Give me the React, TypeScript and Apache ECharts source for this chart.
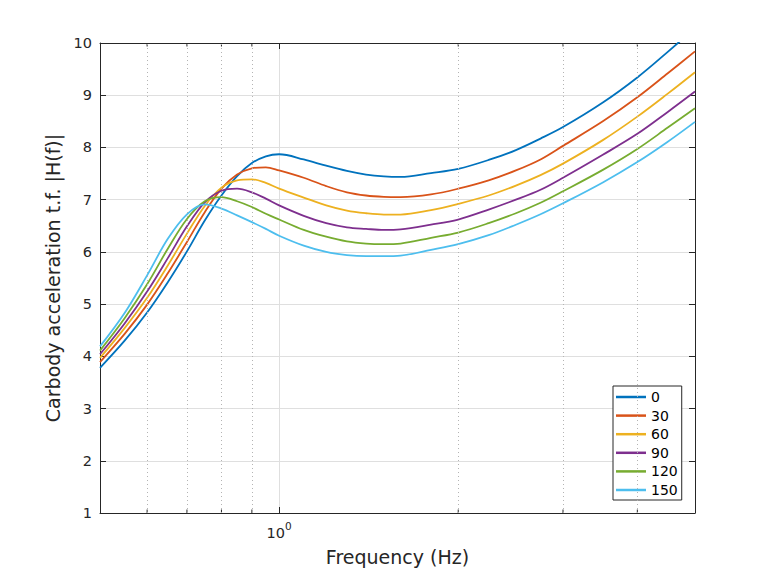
import React, { useEffect, useRef } from "react";
import * as echarts from "echarts";

// ---- data ----
const FREQ = [0.5, 0.55, 0.6, 0.65, 0.7, 0.75, 0.8, 0.85, 0.9, 0.95, 1.0, 1.1, 1.2, 1.3, 1.4, 1.5, 1.6, 1.8, 2.0, 2.25, 2.5, 2.75, 3.0, 3.5, 4.0, 4.5, 5.0];

const H_0 = [3.78, 4.3, 4.84, 5.42, 6.01, 6.6, 7.08, 7.45, 7.7, 7.83, 7.87, 7.77, 7.65, 7.55, 7.48, 7.445, 7.435, 7.51, 7.59, 7.76, 7.95, 8.17, 8.39, 8.86, 9.34, 9.83, 10.29];
const H_30 = [3.89, 4.43, 4.99, 5.59, 6.19, 6.76, 7.21, 7.48, 7.6, 7.62, 7.56, 7.42, 7.26, 7.14, 7.08, 7.055, 7.05, 7.1, 7.21, 7.37, 7.56, 7.77, 8.03, 8.5, 8.96, 9.42, 9.84];
const H_60 = [3.97, 4.54, 5.12, 5.74, 6.35, 6.88, 7.23, 7.37, 7.39, 7.32, 7.21, 7.04, 6.89, 6.79, 6.74, 6.715, 6.715, 6.8, 6.92, 7.08, 7.27, 7.47, 7.69, 8.14, 8.59, 9.03, 9.44];
const H_90 = [4.04, 4.63, 5.24, 5.88, 6.49, 6.95, 7.17, 7.21, 7.14, 7.02, 6.89, 6.69, 6.55, 6.47, 6.44, 6.42, 6.43, 6.52, 6.62, 6.81, 7.0, 7.19, 7.42, 7.86, 8.26, 8.68, 9.07];
const H_120 = [4.11, 4.73, 5.38, 6.06, 6.63, 6.97, 7.05, 6.97, 6.86, 6.73, 6.62, 6.42, 6.29, 6.2, 6.16, 6.15, 6.16, 6.27, 6.37, 6.55, 6.74, 6.94, 7.16, 7.57, 7.97, 8.38, 8.75];
const H_150 = [4.19, 4.83, 5.55, 6.25, 6.72, 6.91, 6.83, 6.7, 6.57, 6.44, 6.31, 6.12, 6.0, 5.94, 5.92, 5.92, 5.93, 6.04, 6.15, 6.32, 6.52, 6.72, 6.93, 7.33, 7.72, 8.11, 8.49];

const SERIES_NAMES = ["0", "30", "60", "90", "120", "150"];
const SERIES_VALUES = [H_0, H_30, H_60, H_90, H_120, H_150];
const COLORS = ["#0072BD", "#D95319", "#EDB120", "#7E2F8E", "#77AC30", "#4DBEEE"];

const X_MIN = 0.5;
const X_MAX = 5;
const X_MINOR_TICKS = [0.6, 0.7, 0.8, 0.9, 2, 3, 4];
const Y_MIN = 1;
const Y_MAX = 10;
const Y_STEP = 1;

const X_LABEL = "Frequency (Hz)";
const Y_LABEL = "Carbody acceleration t.f. |H(f)|";

const FONT = "DejaVu Sans";
const AXIS_COLOR = "#262626";
const GRID_COLOR = "#dfdfdf";
const MINOR_GRID_COLOR = "#b4b4b4";

export default function App() {
  const ref = useRef<HTMLDivElement>(null);

  useEffect(() => {
    if (!ref.current) return;
    const chart = echarts.init(ref.current, undefined, { renderer: "svg" });

    const lineSeries = SERIES_NAMES.map((name, i) => ({
      name,
      type: "line",
      xAxisIndex: 0,
      yAxisIndex: 0,
      data: FREQ.map((f, j) => [f, SERIES_VALUES[i][j]]),
      showSymbol: false,
      symbol: "none",
      smooth: 0.35,
      clip: true,
      z: 3,
      color: COLORS[i],
      lineStyle: { color: COLORS[i], width: 1.8 },
      emphasis: { disabled: true },
    }));

    const minorSeries = {
      type: "custom",
      name: "minor",
      xAxisIndex: 0,
      yAxisIndex: 0,
      silent: true,
      z: 1,
      clip: false,
      data: X_MINOR_TICKS.map((v) => [v, Y_MIN]),
      encode: { x: 0, y: 1 },
      renderItem: (params: any, api: any) => {
        const x = api.coord([api.value(0), Y_MIN])[0];
        const cs = params.coordSys;
        const yb = cs.y + cs.height;
        const yt = cs.y;
        return {
          type: "group",
          children: [
            { type: "line", shape: { x1: x, y1: yb, x2: x, y2: yb - 3.5 }, style: { stroke: AXIS_COLOR, lineWidth: 1 } },
            { type: "line", shape: { x1: x, y1: yt, x2: x, y2: yt + 3.5 }, style: { stroke: AXIS_COLOR, lineWidth: 1 } },
          ],
        };
      },
      markLine: {
        silent: true,
        symbol: "none",
        label: { show: false },
        lineStyle: { color: MINOR_GRID_COLOR, width: 1, type: [1, 3] },
        data: X_MINOR_TICKS.map((v) => ({ xAxis: v })),
      },
    };

    const option: any = {
      animation: false,
      backgroundColor: "#ffffff",
      textStyle: { fontFamily: FONT },
      grid: { left: 100, right: 73, top: 43, bottom: 63, containLabel: false },
      legend: {
        data: SERIES_NAMES,
        orient: "vertical",
        left: 613,
        top: 386,
        padding: [3, 4, 2, 3],
        itemWidth: 30,
        itemHeight: 2.5,
        itemGap: 2.6,
        icon: "rect",
        borderColor: AXIS_COLOR,
        borderWidth: 1,
        borderRadius: 0,
        backgroundColor: "#ffffff",
        selectedMode: false,
        textStyle: { fontFamily: FONT, fontSize: 14, color: "#000000", lineHeight: 16 },
      },
      xAxis: [
        {
          type: "log",
          logBase: 10,
          min: X_MIN,
          max: X_MAX,
          position: "bottom",
          name: X_LABEL,
          nameLocation: "middle",
          nameGap: 34,
          nameTextStyle: { fontFamily: FONT, fontSize: 19, color: AXIS_COLOR },
          axisLine: { show: true, lineStyle: { color: AXIS_COLOR, width: 1 } },
          axisTick: { show: true, inside: true, length: 6, lineStyle: { color: AXIS_COLOR } },
          axisLabel: {
            show: true,
            margin: 7,
            color: AXIS_COLOR,
            fontFamily: FONT,
            showMinLabel: true,
            showMaxLabel: true,
            formatter: (v: number) => (Math.abs(v - 1) < 1e-9 ? "{base|10}{sup|0}" : ""),
            rich: {
              base: { fontFamily: FONT, fontSize: 14.5, color: AXIS_COLOR, padding: [5, 0, 0, 0] },
              sup: { fontFamily: FONT, fontSize: 10.5, color: AXIS_COLOR, verticalAlign: "top" },
            },
          },
          splitLine: { show: true, lineStyle: { color: GRID_COLOR, width: 1 } },
        },
        {
          type: "log",
          logBase: 10,
          min: X_MIN,
          max: X_MAX,
          position: "top",
          axisLine: { show: true, lineStyle: { color: AXIS_COLOR, width: 1 } },
          axisTick: { show: true, inside: true, length: 6, lineStyle: { color: AXIS_COLOR } },
          axisLabel: { show: false },
          splitLine: { show: false },
        },
      ],
      yAxis: [
        {
          type: "value",
          min: Y_MIN,
          max: Y_MAX,
          interval: Y_STEP,
          position: "left",
          name: Y_LABEL,
          nameLocation: "middle",
          nameGap: 29,
          nameTextStyle: { fontFamily: FONT, fontSize: 19, color: AXIS_COLOR },
          axisLine: { show: true, lineStyle: { color: AXIS_COLOR, width: 1 } },
          axisTick: { show: true, inside: true, length: 6, lineStyle: { color: AXIS_COLOR } },
          axisLabel: { show: true, margin: 8, color: AXIS_COLOR, fontFamily: FONT, fontSize: 14.5 },
          splitLine: { show: true, lineStyle: { color: GRID_COLOR, width: 1 } },
        },
        {
          type: "value",
          min: Y_MIN,
          max: Y_MAX,
          interval: Y_STEP,
          position: "right",
          axisLine: { show: true, lineStyle: { color: AXIS_COLOR, width: 1 } },
          axisTick: { show: true, inside: true, length: 6, lineStyle: { color: AXIS_COLOR } },
          axisLabel: { show: false },
          splitLine: { show: false },
        },
      ],
      series: [minorSeries, ...lineSeries],
    };

    chart.setOption(option);
    return () => {
      chart.dispose();
    };
  }, []);

  return (
    <div
      ref={ref}
      style={{ position: "fixed", left: 0, top: 0, width: 768, height: 576, background: "#ffffff" }}
    />
  );
}
